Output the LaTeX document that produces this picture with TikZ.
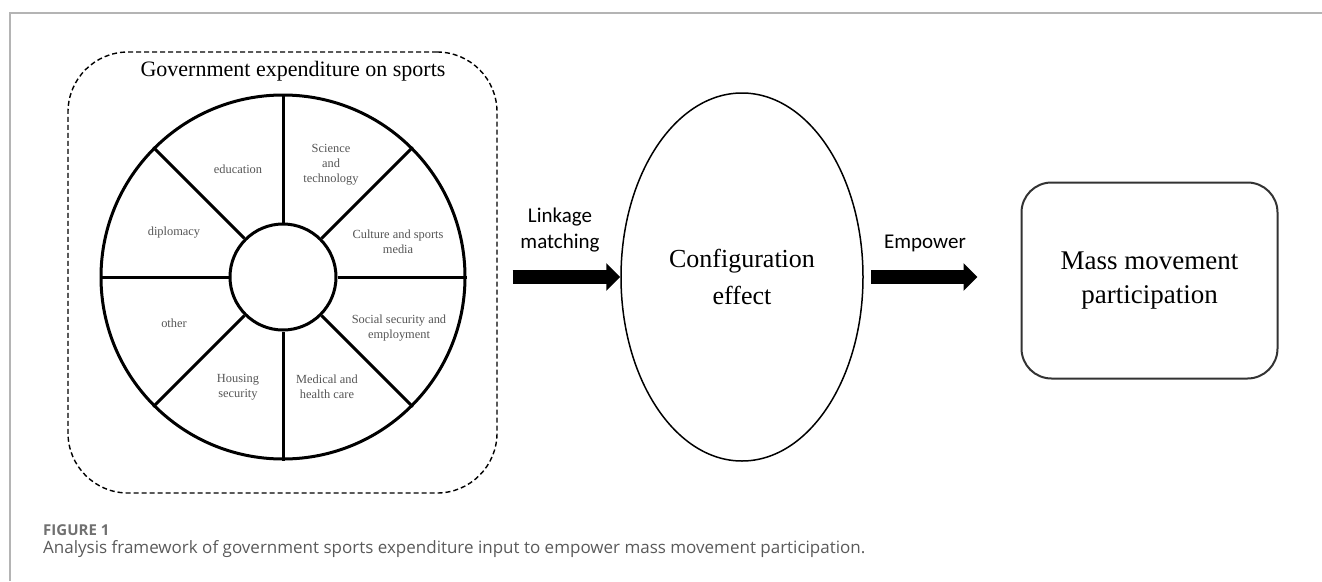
\documentclass[tikz,border=0pt]{standalone}
\usepackage{fontspec}
\setmainfont{Liberation Serif}
\newfontfamily\labelfont{Carlito}
\newfontfamily\captionfont{Open Sans}
\usetikzlibrary{arrows.meta,shapes.geometric}
\definecolor{framegray}{HTML}{B4B4B4}
\definecolor{sectorgray}{HTML}{555555}
\definecolor{capgray}{HTML}{5A5A5A}
\definecolor{figgray}{HTML}{707070}

\begin{document}
\begin{tikzpicture}[x=1pt,y=-1pt,
  sector/.style={text=sectorgray, font=\fontsize{12.4}{15}\selectfont, align=center, inner sep=0pt},
  spoke/.style={line width=3pt},
  bigarrow/.style={line width=14pt, -{Triangle[length=14pt,width=27pt]}},
  arrowlabel/.style={font=\labelfont\fontsize{21}{26}\selectfont, align=center, inner sep=0pt},
]
\useasboundingbox (0,0) rectangle (1322,581);

% page frame (left and top rules)
\draw[framegray, line width=1.5pt] (10,581) -- (10,13) -- (1322,13);

% dashed group around the expenditure wheel
\node[draw, line width=1.4pt, dash pattern=on 5pt off 3pt, rounded corners=60pt,
      minimum width=429pt, minimum height=441pt] (gbox) at (282.5,272.5) {};
\node[font=\fontsize{22}{26}\selectfont, inner sep=0pt] (title) at (293,71) {Government expenditure on sports};

% expenditure wheel
\node[circle, draw, line width=3pt, minimum size=364pt, inner sep=0pt] (wheel) at (283,277) {};
\node[circle, draw, line width=3pt, minimum size=106pt, inner sep=0pt] (hub) at (283,277) {};
\foreach \a in {0,45,...,315} \draw[spoke] (hub.\a) -- (wheel.\a);

\node[sector] (edu) at (238,169) {education};
\node[sector] (sci) at (331,165) {Science\\and\\technology};
\node[sector] (dip) at (174,233) {diplomacy};
\node[sector] (cul) at (398,242) {Culture and sports\\media};
\node[sector] (oth) at (174,323) {other};
\node[sector] (soc) at (399,328) {Social security and\\employment};
\node[sector] (hou) at (238,387) {Housing\\security};
\node[sector] (med) at (327,387) {Medical and\\health care};

% configuration effect
\node[ellipse, draw, line width=1.5pt, minimum width=242pt, minimum height=368pt, inner sep=0pt,
      font=\fontsize{26}{37}\selectfont, align=center] (cfg) at (742,277) {Configuration\\effect};

% outcome box
\node[draw=black!80, line width=2pt, rounded corners=30pt, minimum width=256pt, minimum height=196pt,
      font=\fontsize{27}{34}\selectfont, align=center] (mmp) at (1149.5,280.5) {Mass movement\\participation};

% connectors
\draw[bigarrow, shorten <=15pt] (gbox.east |- cfg.west) -- (cfg.west);
\draw[bigarrow, shorten <=7pt, shorten >=43pt] (cfg.east) -- (cfg.east -| mmp.west);
\node[arrowlabel] (lk) at (560,230) {Linkage\\matching};
\node[arrowlabel] (emp) at (925,243) {Empower};

% caption
\node[anchor=base west, inner sep=0pt, text=figgray, font=\captionfont\bfseries\fontsize{15}{18}\selectfont] (fig) at (43,535) {FIGURE 1};
\node[anchor=base west, inner sep=0pt, text=capgray, font=\captionfont\fontsize{17}{20}\selectfont] (cap) at (43,553) {Analysis framework of government sports expenditure input to empower mass movement participation.};
\end{tikzpicture}
\end{document}
